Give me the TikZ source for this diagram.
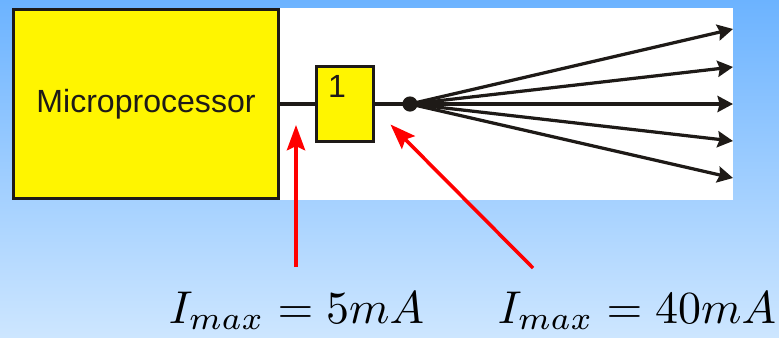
\documentclass[tikz,border=0pt]{standalone}
\usepackage{fontspec}
\setmainfont{Liberation Sans}
\usepackage{xcolor}
\usepackage{tikz}
\usetikzlibrary{arrows.meta,positioning}
\definecolor{skytop}{RGB}{108,179,255}
\definecolor{skylow}{RGB}{205,230,255}
\definecolor{chip}{RGB}{255,245,0}
\definecolor{ink}{RGB}{30,26,23}
\tikzset{
  chipbox/.style={draw=ink,fill=chip,text=ink,line width=2.4pt,inner sep=0pt},
  wire/.style={draw=ink,line width=2.5pt},
  fanline/.style={draw=ink,line width=2.3pt,-{Stealth[length=11pt,width=11.5pt,inset=1.5pt]}},
  redline/.style={draw=red,line width=2.5pt,-{Stealth[length=18pt,width=13pt,inset=3pt]}},
  current/.style={scale=3.27,inner sep=0pt,anchor=base west}
}

\begin{document}
\begin{tikzpicture}[x=0.025cm,y=-0.025cm]
  \useasboundingbox (0,0) rectangle (779,337);
  \shade[top color=skytop,bottom color=skylow] (0,0) rectangle (779,337);
  \fill[white] (279,8) rectangle (733,200);
  % blocks
  \node[chipbox,minimum width=6.63cm,minimum height=4.72cm,font=\fontsize{22.8}{24}\selectfont] (micro) at (146,104) {Microprocessor};
  \node[chipbox,minimum width=1.43cm,minimum height=1.88cm] (gate) at (345,104) {};
  \node[font=\fontsize{22.8}{24}\selectfont,text=ink,inner sep=0pt] (gatelabel) at (337,86) {1};
  \node[circle,fill=ink,inner sep=0pt,minimum size=0.38cm] (dot) at (410,104) {};
  \draw[wire] (micro.east) -- (gate.west);
  \draw[wire] (gate.east) -- (dot.center);
  % fan of outputs
  \foreach \i/\y in {1/29,2/67,3/104,4/141,5/178} {
    \coordinate (fan\i) at (733,\y);
    \draw[fanline] (dot.center) -- (fan\i);
  }
  % currents
  \node[current] (five) at (168,323) {$I_{max}=5mA$};
  \node[current] (forty) at (497,323) {$I_{max}=40mA$};
  \coordinate (fivetail) at (296,267);
  \coordinate (fivetip) at (296,125);
  \coordinate (fortytail) at (533,268);
  \coordinate (fortytip) at (390.5,124.5);
  \draw[redline] (fivetail) -- (fivetip);
  \draw[redline] (fortytail) -- (fortytip);
\end{tikzpicture}
\end{document}
